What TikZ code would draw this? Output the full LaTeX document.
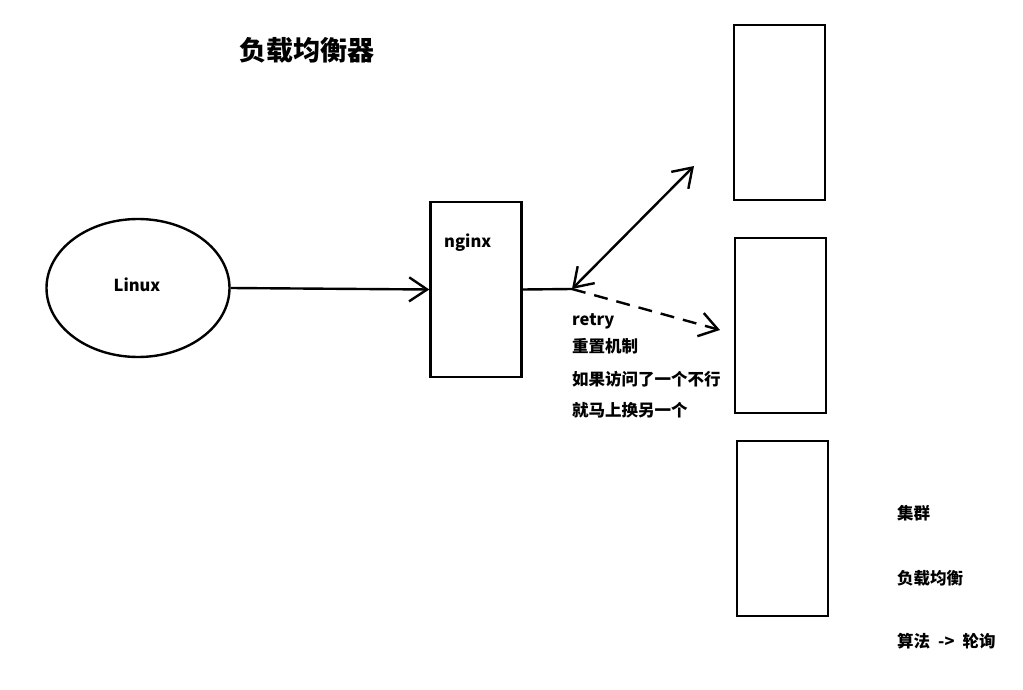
\documentclass[tikz,border=0pt]{standalone}
\usepackage{fontspec}
\setmainfont{Noto Sans CJK SC}
\usetikzlibrary{arrows.meta,shapes.geometric}
\begin{document}
\begin{tikzpicture}[x=1pt,y=-1pt,line width=2.4pt,font=\bfseries\fontsize{16.5}{19}\selectfont]
\tikzset{
  box/.style={draw,rectangle,minimum width=91pt,minimum height=175pt,inner sep=0pt},
  barb/.style={-{Straight Barb[length=18pt,width=24pt,line width=2.4pt]}},
  note/.style={anchor=west,inner sep=0pt}
}
\useasboundingbox (0,0) rectangle (1023,690);
\node[font=\bfseries\fontsize{27}{30}\selectfont] (title) at (307,50) {负载均衡器};
\node[draw,ellipse,minimum width=183pt,minimum height=138pt,inner sep=0pt] (linux) at (138,288) {};
\node (linuxlabel) at (137,285) {Linux};
\node[box] (nginx) at (476,289.5) {};
\node[note] (nginxlabel) at (443,243) {nginx};
\node[box] (srvi) at (779.5,112.5) {};
\node[box] (srvii) at (780.5,325.5) {};
\node[box] (srviii) at (782.5,528.5) {};
\coordinate (fork) at (572,289);
\coordinate (up) at (694,166);
\coordinate (down) at (720,330);
\draw[barb] (linux.east) -- (nginx.west);
\draw (nginx.east) -- (fork);
\draw[{Straight Barb[length=18pt,width=24pt,line width=2.4pt]}-{Straight Barb[length=18pt,width=24pt,line width=2.4pt]}] (fork) -- (up);
\draw[barb,dash pattern=on 14pt off 9pt] (fork) -- (down);
\node[note] (retry) at (571,321) {retry};
\node[note] (retryi) at (571,346) {重置机制};
\node[note] (retryii) at (571,379) {如果访问了一个不行};
\node[note] (retryiii) at (571,410) {就马上换另一个};
\node[note] (cluster) at (896,513) {集群};
\node[note] (balance) at (896,578) {负载均衡};
\node[note] (algo) at (896,641) {算法\hspace{8pt}->\hspace{8pt}轮询};
\end{tikzpicture}
\end{document}
